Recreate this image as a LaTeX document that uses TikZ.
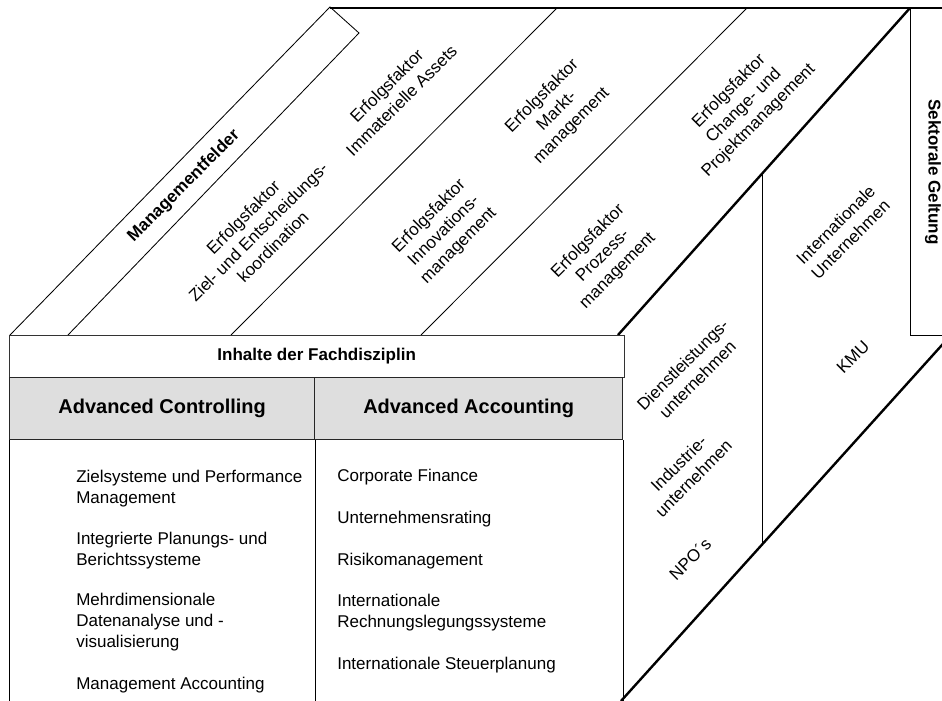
\documentclass[tikz,border=0pt]{standalone}
\usepackage{fontspec}
\setmainfont{Liberation Sans}
\usetikzlibrary{positioning}
\tikzset{
    mytext/.style = {align=center, inner sep=0pt, font=\fontsize{12.1}{14.9}\selectfont, text=black},
    mytextd/.style = {mytext, rotate=45},
    mytextb/.style = {mytext, font=\fontsize{12.1}{14.9}\selectfont\bfseries},
    myitem/.style = {align=left, anchor=north west, inner sep=0pt, font=\fontsize{12.1}{14.9}\selectfont},
    mybox/.style = {draw=black!80, line width=0.6pt, anchor=north west, inner sep=0pt, font=\fontsize{12.1}{14.9}\selectfont\bfseries},
    myboxg/.style = {draw=black!85, line width=0.9pt, fill=black!13, anchor=north west, inner sep=0pt, minimum height=1.55cm, font=\fontsize{14.2}{17}\selectfont\bfseries},
    edgen/.style = {-, line width=0.6pt, black},
    edgek/.style = {-, line width=1.7pt, black},
}
\begin{document}
\begin{tikzpicture}[x=0.025cm,y=-0.025cm]
\useasboundingbox (0,0) rectangle (942,701);
\clip (0,0) rectangle (942,701);
%
\draw[edgek] (330,8) -- (942,8);
\draw[edgen] (10,335) -- (330,7) -- (359,33) -- (68,335);
\draw[edgen] (231,335) -- (557,8);
\draw[edgen] (421,335) -- (747,8);
\draw[edgek] (618,335) -- (910,8);
\draw[edgen] (910,8) -- (910,335) -- (942,335);
\draw[edgen] (762,174) -- (762,544);
\draw[edgek] (621,701) -- (951,335);
%
\node[mybox, minimum width=15.36cm, minimum height=1.05cm] (inh) at (9,335) {Inhalte der Fachdisziplin};
\node[myboxg, minimum width=7.625cm] (ac) at (9,377) {Advanced Controlling};
\node[myboxg, minimum width=7.7cm] (aa) at (314,377) {Advanced Accounting};
\draw[edgen] (ac.south west) -- ++(0,270);
\draw[edgen] (ac.south east) -- ++(0,270);
\draw[edgen] (aa.south east) -- ++(0,270);
%
\node[myitem] (z1) at (76,470) {Zielsysteme und Performance\\Management};
\node[myitem] (z2) at (76,532) {Integrierte Planungs- und\\Berichtssysteme};
\node[myitem] (z3) at (76,593) {Mehrdimensionale\\Datenanalyse und -\\visualisierung};
\node[myitem] (z4) at (76,677) {Management Accounting};
%
\node[myitem] (a1) at (337,469) {Corporate Finance};
\node[myitem] (a2) at (337,511) {Unternehmensrating};
\node[myitem] (a3) at (337,553) {Risikomanagement};
\node[myitem] (a4) at (337,594) {Internationale\\Rechnungslegungssysteme};
\node[myitem] (a5) at (337,657) {Internationale Steuerplanung};
%
\node[mytextb, rotate=45] (mf) at (184,186) {Managementfelder};
\node[mytextd] (ziel) at (258,232) {Erfolgsfaktor\\Ziel- und Entscheidungs-\\koordination};
\node[mytextd] (imm) at (394,93) {Erfolgsfaktor\\Immaterielle Assets};
\node[mytextd] (inno) at (444,231) {Erfolgsfaktor\\Innovations-\\management};
\node[mytextd] (markt) at (557,111) {Erfolgsfaktor\\Markt-\\management};
\node[mytextd] (proz) at (603,256) {Erfolgsfaktor\\Prozess-\\management};
\node[mytextd] (chg) at (744,106) {Erfolgsfaktor\\Change- und\\Projektmanagement};
%
\node[mytextd] (intu) at (843,232) {Internationale\\Unternehmen};
\node[mytextd] (kmu) at (853,357) {KMU};
\node[mytextd] (dienst) at (690,372) {Dienstleistungs-\\unternehmen};
\node[mytextd] (indu) at (686,471) {Industrie-\\unternehmen};
\node[mytextd] (npo) at (690,559) {NPO´s};
\node[mytextb, rotate=-90] (sek) at (933,172) {Sektorale Geltung};

\end{tikzpicture}
\end{document}
